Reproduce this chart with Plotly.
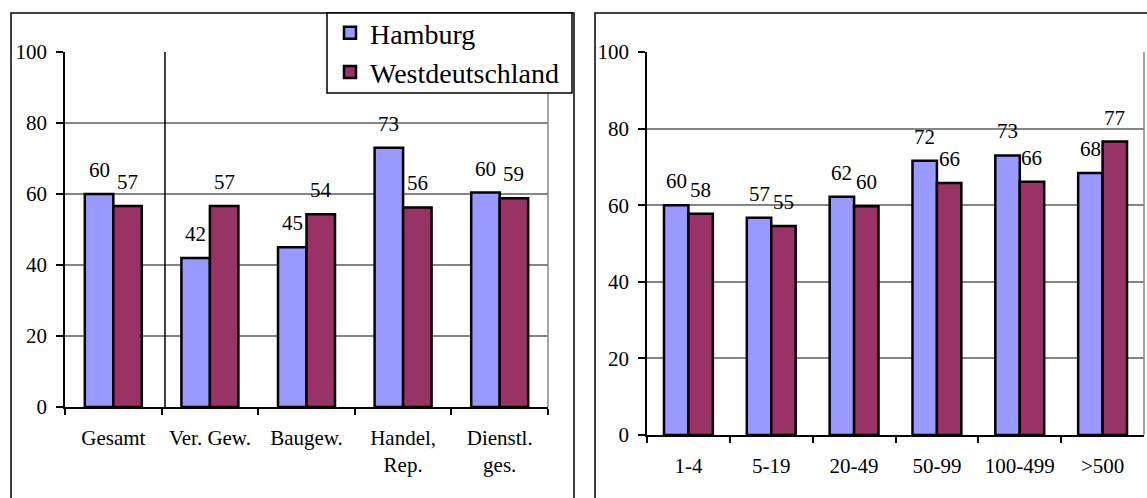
import plotly.graph_objects as go

# ---- data ----
sectors = ["Gesamt", "Ver. Gew.", "Baugew.", "Handel,<br>Rep.", "Dienstl.<br>ges."]
sector_hamburg = [60.0, 42.0, 45.0, 73.0, 60.4]
sector_west = [56.6, 56.6, 54.3, 56.2, 58.8]

sizes = ["1-4", "5-19", "20-49", "50-99", "100-499", ">500"]
size_hamburg = [60.0, 56.7, 62.2, 71.6, 73.0, 68.4]
size_west = [57.8, 54.6, 59.7, 65.8, 66.1, 76.6]

series_names = ["Hamburg", "Westdeutschland"]
y_ticks = [0, 20, 40, 60, 80, 100]

# ---- style ----
W, H = 1147, 498
FONT = "Liberation Serif, Times New Roman, serif"
C_HAM = "#9999FF"
C_WEST = "#993366"
GRID = "#858585"
BARGAP = 0.41
FS = 21

def px_x(p):
    return p / W

def px_y(p):
    return 1 - p / H

dom1 = [px_x(65), px_x(548)]
dom2 = [px_x(647), px_x(1144)]
ydom1 = [px_y(407), px_y(52)]
ydom2 = [px_y(435), px_y(52)]

fig = go.Figure()

panels = [
    ("x", "y", sectors, sector_hamburg, sector_west, True),
    ("x2", "y2", sizes, size_hamburg, size_west, False),
]
for xa, ya, cats, ham, west, show in panels:
    fig.add_trace(go.Bar(x=cats, y=ham, name=series_names[0], xaxis=xa, yaxis=ya,
                         marker=dict(color=C_HAM, line=dict(color="black", width=2.5)),
                         showlegend=show, legendgroup="h"))
    fig.add_trace(go.Bar(x=cats, y=west, name=series_names[1], xaxis=xa, yaxis=ya,
                         marker=dict(color=C_WEST, line=dict(color="black", width=2.5)),
                         showlegend=show, legendgroup="w"))

# data labels centred above each bar
annotations = []
for (xa, ya, cats, ham, west, _), dom in zip(panels, [dom1, dom2]):
    cat_px = (dom[1] - dom[0]) * W / len(cats)
    bar_px = cat_px * (1 - BARGAP) / 2
    for vals, sgn in ((ham, -1), (west, 1)):
        for c, v in zip(cats, vals):
            annotations.append(dict(
                x=c, y=v, xref=xa, yref=ya, text=f"{v:.0f}", showarrow=False,
                xshift=sgn * bar_px / 2, yshift=24, yanchor="middle", xanchor="center",
                font=dict(family=FONT, size=FS, color="black")))

axis_common = dict(
    showline=True, linecolor="black", linewidth=1.5,
    ticks="outside", tickcolor="black", tickwidth=1.5,
    tickfont=dict(family=FONT, size=FS, color="black"),
    automargin=False,
)

fig.update_layout(
    width=W, height=H,
    margin=dict(l=0, r=0, t=0, b=0, autoexpand=False),
    paper_bgcolor="white", plot_bgcolor="white",
    barmode="group", bargap=BARGAP, bargroupgap=0,
    font=dict(family=FONT, color="black"),
    xaxis=dict(domain=dom1, anchor="y", type="category", tickson="boundaries",
               ticklen=6, ticklabelstandoff=11, showgrid=False, **axis_common),
    yaxis=dict(domain=ydom1, anchor="x", range=[0, 100], tickvals=y_ticks,
               ticklen=7, ticklabelstandoff=5, showgrid=True, gridcolor=GRID,
               gridwidth=1.5, zeroline=False, **axis_common),
    xaxis2=dict(domain=dom2, anchor="y2", type="category", tickson="boundaries",
                ticklen=6, ticklabelstandoff=11, showgrid=False, **axis_common),
    yaxis2=dict(domain=ydom2, anchor="x2", range=[0, 100], tickvals=y_ticks,
                ticklen=7, ticklabelstandoff=5, showgrid=True, gridcolor=GRID,
                gridwidth=1.5, zeroline=False, **axis_common),
    legend=dict(x=px_x(330), y=px_y(8), xanchor="left", yanchor="top",
                bgcolor="rgba(0,0,0,0)", borderwidth=0,
                font=dict(family=FONT, size=28, color="black"),
                traceorder="normal", tracegroupgap=0),
    annotations=annotations,
)

shapes = []
# gray right border of plot areas
for xa, ya in (("x", "y"), ("x2", "y2")):
    shapes.append(dict(type="line", xref=f"{xa} domain", yref=f"{ya} domain",
                       x0=1, x1=1, y0=0, y1=1, line=dict(color=GRID, width=1.5)))
# separator line after "Gesamt"
shapes.append(dict(type="line", xref="x", yref="y domain", x0=0.535, x1=0.535,
                   y0=0, y1=1, line=dict(color="black", width=1.5)))
# panel frames
shapes.append(dict(type="rect", xref="paper", yref="paper",
                   x0=px_x(11), x1=px_x(574), y0=-0.2, y1=px_y(13),
                   line=dict(color="black", width=1.5), layer="below"))
shapes.append(dict(type="rect", xref="paper", yref="paper",
                   x0=px_x(595), x1=1.2, y0=-0.2, y1=px_y(13),
                   line=dict(color="black", width=1.5), layer="below"))
# legend box (legend entries drawn on top by plotly)
shapes.append(dict(type="rect", xref="paper", yref="paper",
                   x0=px_x(327), x1=px_x(572), y0=px_y(93), y1=px_y(13),
                   fillcolor="white", line=dict(color="black", width=1.5), layer="above"))
fig.update_layout(shapes=shapes)

fig.write_html(
    "out.html",
    config={"displayModeBar": False},
    post_script="document.body.style.margin='0';document.body.style.padding='0';"
                "document.body.style.overflow='hidden';"
                "document.documentElement.style.overflow='hidden';",
)
